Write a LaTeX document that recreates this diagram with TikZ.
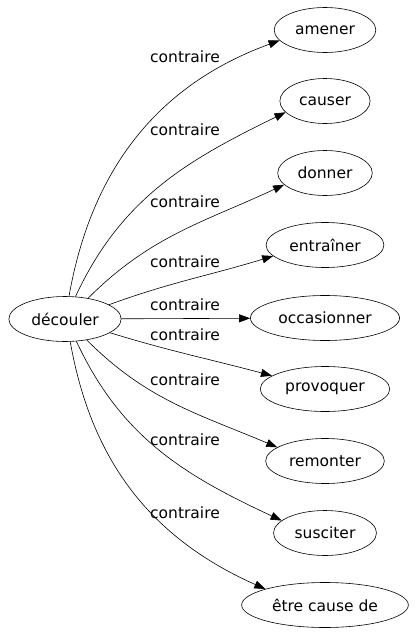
\documentclass[tikz,border=0pt]{standalone}
\usepackage{fontspec}
\setmainfont{DejaVu Sans}
\usetikzlibrary{shapes.geometric,arrows.meta}

\begin{document}
\begin{tikzpicture}[x=1pt, y=1pt, font=\fontsize{15.5}{18}\selectfont, line width=0.6pt,
    every node/.style={ellipse, draw, inner xsep=6pt, inner ysep=2pt, minimum height=45pt},
    lbl/.style={draw=none, rectangle, minimum height=0pt, inner sep=0pt},
    rel/.style={-{Triangle[length=11pt, width=8pt]}}]
    \useasboundingbox (0,0) rectangle (416,-635);
    % Wierzchołki

    \node (decouler) at (65, -319) {découler};
    \node (amener) at (325, -30) {amener};
    \node (causer) at (325, -101) {causer};
    \node (donner) at (325, -173) {donner};
    \node (entrainer) at (325, -245) {entraîner};
    \node (occasionner) at (325, -318) {occasionner};
    \node (provoquer) at (325, -389) {provoquer};
    \node (remonter) at (325, -461) {remonter};
    \node (susciter) at (325, -533) {susciter};
    \node (etre) at (325, -605) {être cause de};

    % Etykiety

    \node[lbl] (l1) at (185, -57) {contraire};
    \node[lbl] (l2) at (185, -130) {contraire};
    \node[lbl] (l3) at (185, -202) {contraire};
    \node[lbl] (l4) at (185, -262) {contraire};
    \node[lbl] (l5) at (185, -305) {contraire};
    \node[lbl] (l6) at (185, -335) {contraire};
    \node[lbl] (l7) at (185, -380) {contraire};
    \node[lbl] (l8) at (185, -440) {contraire};
    \node[lbl] (l9) at (185, -513) {contraire};

    % Krawędzie

    \draw[rel] (decouler.80) to[out=80, in=200] (amener.193);
    \draw[rel] (decouler.65) to[out=65, in=206] (causer.196);
    \draw[rel] (decouler.42) to[out=45, in=205] (donner.196);
    \draw[rel] (decouler.18) to[out=20, in=197] (entrainer.192);
    \draw[rel] (decouler) -- (occasionner);
    \draw[rel] (decouler.-17) to[out=-17, in=165] (provoquer.166);
    \draw[rel] (decouler.-44) to[out=-45, in=157] (remonter.164);
    \draw[rel] (decouler.-63) to[out=-65, in=155] (susciter.164);
    \draw[rel] (decouler.-77) to[out=-80, in=156] (etre.165);

\end{tikzpicture}
\end{document}
